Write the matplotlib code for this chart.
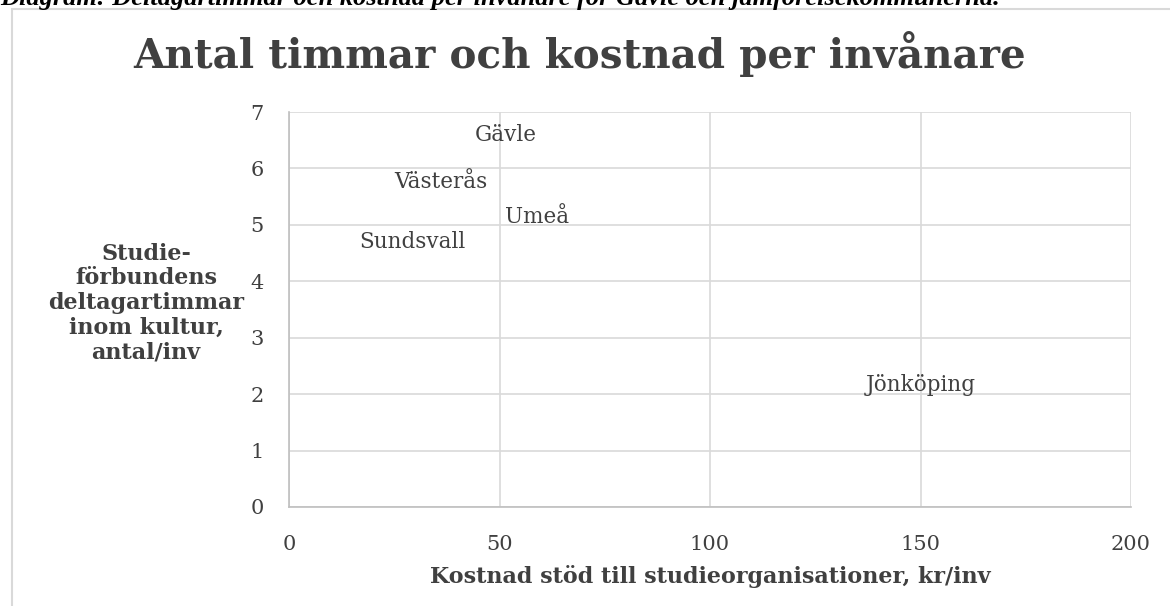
import matplotlib
matplotlib.use("Agg")
import matplotlib.pyplot as plt
from matplotlib.patches import Rectangle

cities = ["Gävle", "Västerås", "Umeå", "Sundsvall", "Jönköping"]
cost = [51.5, 36.1, 59.0, 29.3, 150.1]
hours = [6.60, 5.76, 5.14, 4.70, 2.16]
xticks = [0, 50, 100, 150, 200]
yticks = [0, 1, 2, 3, 4, 5, 6, 7]

W, H = 1170, 606
fig = plt.figure(figsize=(W / 100, H / 100), dpi=100)
fig.patch.set_facecolor("white")

serif = ["DejaVu Serif"]
txt = "#404040"

# outer chart border
fig.add_artist(Rectangle((12 / W, -0.01), 1.1, 1 - 9 / H + 0.01, transform=fig.transFigure,
                         fill=False, edgecolor="#d9d9d9", linewidth=1.5))

# caption, partially cropped at top (as in the reference)
fig.text(0.0, 1 - 5 / H, "Diagram: Deltagartimmar och kostnad per invånare för Gävle och jämförelsekommunerna.",
         fontsize=19, fontweight="bold", fontstyle="italic", family=["Liberation Serif"],
         va="baseline", ha="left", color="black")

ax = fig.add_axes([289 / W, 1 - 507 / H, (1131 - 289) / W, (507 - 112) / H])
ax.set_xlim(0, 200)
ax.set_ylim(0, 7)
ax.set_xticks(xticks)
ax.set_yticks(yticks)
ax.grid(True, color="#d9d9d9", linewidth=1.2)
ax.set_axisbelow(True)
for s in ["top", "right"]:
    ax.spines[s].set_visible(False)
for s in ["left", "bottom"]:
    ax.spines[s].set_color("#bfbfbf")
    ax.spines[s].set_linewidth(1.2)
ax.tick_params(length=0, labelsize=15, colors=txt)
ax.tick_params(axis="x", pad=20)
ax.tick_params(axis="y", pad=18)
for lab in ax.get_xticklabels() + ax.get_yticklabels():
    lab.set_family(serif)

for c, x, y in zip(cities, cost, hours):
    ax.text(x, y, c, ha="center", va="center", fontsize=15.5, color=txt, family=serif)

ax.set_xlabel("Kostnad stöd till studieorganisationer, kr/inv", fontsize=16, fontweight="bold",
              color=txt, family=serif, labelpad=8)
ax.set_ylabel("Studie-\nförbundens\ndeltagartimmar\ninom kultur,\nantal/inv", fontsize=16,
              fontweight="bold", color=txt, family=serif, rotation=0, ha="center", va="center",
              linespacing=1.15)
ax.yaxis.set_label_coords((146 - 289) / (1131 - 289), (507 - 303) / (507 - 112))

fig.text(580 / W, 1 - 68 / H, "Antal timmar och kostnad per invånare", fontsize=29.2,
         fontweight="bold", family=serif, color=txt, ha="center", va="baseline")

fig.savefig("out.png", dpi=100, facecolor="white")
